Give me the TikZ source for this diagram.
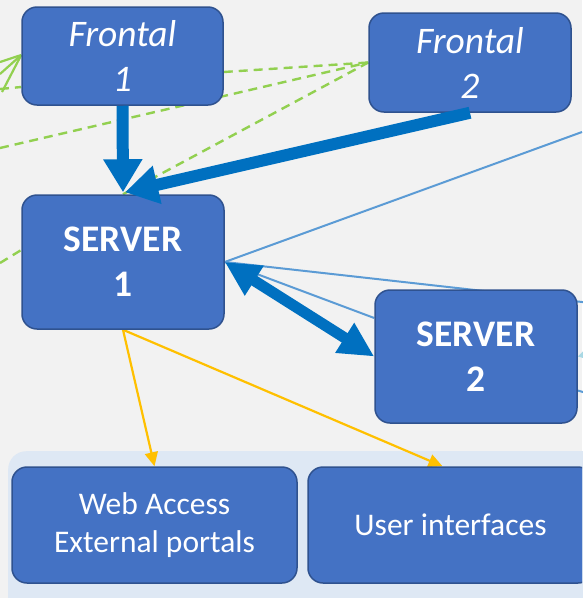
\documentclass[tikz,border=0pt]{standalone}
\usepackage{fontspec}
\setmainfont{Carlito}
\usetikzlibrary{arrows.meta}
\definecolor{bgc}{HTML}{F2F2F2}
\definecolor{panelc}{HTML}{DEE8F4}
\definecolor{boxfill}{HTML}{4472C4}
\definecolor{boxborder}{HTML}{2F528F}
\definecolor{thickblue}{HTML}{0070C0}
\definecolor{thinblue}{HTML}{5B9BD5}
\definecolor{greenc}{HTML}{92D050}
\definecolor{yellowc}{HTML}{FFC000}
\definecolor{cyanc}{HTML}{A9D8E4}
\pgfdeclarelayer{bglayer}
\pgfdeclarelayer{linelayer}
\pgfsetlayers{bglayer,linelayer,main}
\tikzset{
  box/.style={draw=boxborder, fill=boxfill, line width=1.5pt, rounded corners=15pt,
    text=white, align=center, inner sep=0pt},
  bigfont/.style={font=\fontsize{37.5}{45}\selectfont},
  smallfont/.style={font=\fontsize{31.5}{38}\selectfont},
  thickarr/.style={draw=thickblue, line width=12pt, -{Triangle[length=33pt,width=37pt]}},
  dblarr/.style={draw=thickblue, line width=11pt,
    {Triangle[length=35pt,width=33pt]}-{Triangle[length=35pt,width=33pt]}},
  thinline/.style={draw=thinblue, line width=2pt},
  greendash/.style={draw=greenc, line width=2.4pt, dash pattern=on 9pt off 6pt},
  greensolid/.style={draw=greenc, line width=2.2pt},
  yellowarr/.style={draw=yellowc, line width=2.2pt, -{Triangle[length=14pt,width=13pt]}},
}
\begin{document}
\begin{tikzpicture}[x=1pt,y=-1pt]
\useasboundingbox (0,0) rectangle (582,598);
\clip (0,0) rectangle (582,598);

\begin{pgfonlayer}{bglayer}
\fill[bgc] (0,0) rectangle (582,598);
\node[fill=panelc, rounded corners=18pt, minimum width=630pt, minimum height=200pt,
  anchor=north west, inner sep=0pt] (panel) at (8,451) {};
\end{pgfonlayer}

% boxes
\node[box, minimum width=201pt, minimum height=98pt, bigfont] (f1) at (122.5,56) {\itshape Frontal\\\itshape 1};
\node[box, minimum width=202pt, minimum height=99pt, bigfont] (f2) at (470,62.5) {\itshape Frontal\\\itshape 2};
\node[box, minimum width=202pt, minimum height=134pt, bigfont] (s1) at (123,262) {\bfseries SERVER\\\bfseries 1};
\node[box, minimum width=202pt, minimum height=133pt, bigfont] (s2) at (476,356.5) {\bfseries SERVER\\\bfseries 2};
\node[box, minimum width=285pt, minimum height=116pt, smallfont] (web) at (154.5,525) {Web Access\\External portals};
\node[box, minimum width=285pt, minimum height=116pt, smallfont] (ui) at (450.5,525) {User interfaces};

% outside coordinates
\coordinate (gl1) at (0,62);
\coordinate (gl2) at (0,74);
\coordinate (gl3) at (2,92);
\coordinate (gl4) at (0,89);
\coordinate (gl5) at (0,148);
\coordinate (gl6) at (0,263);
\coordinate (r1) at (582,132);
\coordinate (r2) at (600,304);
\coordinate (r3) at (600,397);
\coordinate (r4) at (620,346);
\coordinate (s2a) at ([yshift=38.5pt]s2.west);

\begin{pgfonlayer}{linelayer}
% green lines
\draw[greensolid] (gl1) -- ([yshift=1pt]f1.west);
\draw[greensolid] (gl2) -- ([yshift=1pt]f1.west);
\draw[greensolid] (gl3) -- ([yshift=1pt]f1.west);
\draw[greendash] (gl4) -- ([yshift=-31pt]f1.west);
\draw[greendash] (gl5) -- (f2.west);
\draw[greendash] ([yshift=-16pt]f1.east) -- (f2.west);
\draw[greendash] (s1.north) -- (f2.west);
\draw[greendash] (gl6) -- ([yshift=12pt]s1.west);
% thin blue lines
\draw[thinline] (s1.east) -- (r1);
\draw[thinline] (s1.east) -- (r2);
\draw[thinline] (s1.east) -- (s2a);
\draw[thinline] ([yshift=-34pt]s2.east) -- (r3);
\draw[draw=cyanc, line width=2.5pt, -{Triangle[length=11pt,width=12pt]}] (r4) -- (s2.east);
% yellow arrows
\draw[yellowarr] (s1.south) -- (web.north);
\draw[yellowarr] (s1.south) -- ([xshift=-8pt]ui.north);
\end{pgfonlayer}

% thick arrows
\draw[thickarr] (f1.south) -- ([yshift=2pt]s1.north);
\draw[thickarr] (f2.south) -- ([xshift=2pt,yshift=2pt]s1.north);
\draw[dblarr] (s1.east) -- (s2.west);
\end{tikzpicture}
\end{document}
